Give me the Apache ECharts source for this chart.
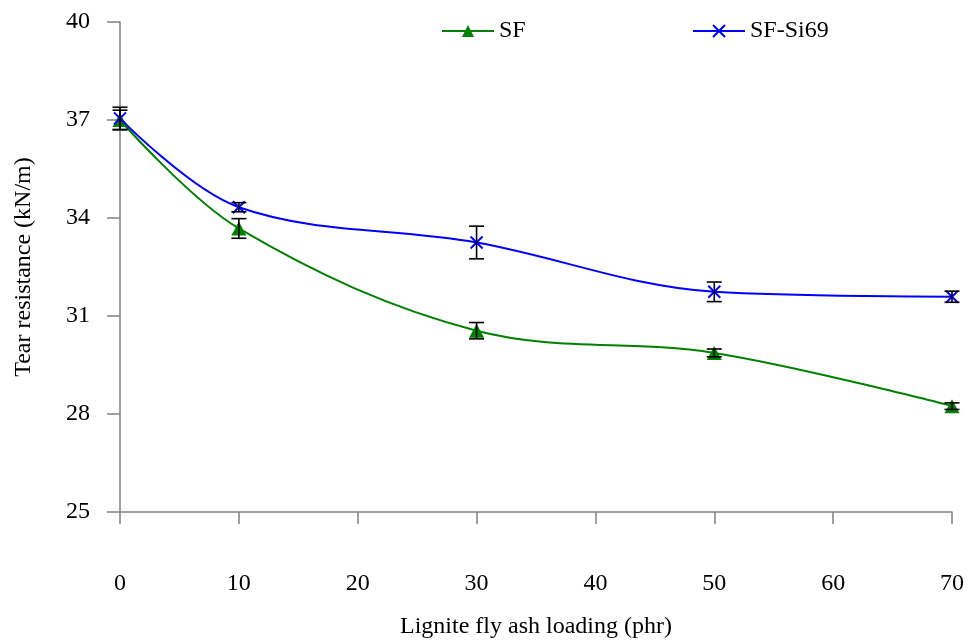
<!DOCTYPE html>
<html>
<head>
<meta charset="utf-8">
<script src="https://cdn.jsdelivr.net/npm/echarts@6/dist/echarts.min.js"></script>
<style>
  html, body { margin: 0; padding: 0; background: #fff; }
  #chart { width: 968px; height: 641px; }
</style>
</head>
<body>
<div id="chart"></div>
<script>
// Filler loading levels (phr)
const loading = [0, 10, 30, 50, 70];
// Tear resistance (kN/m) and standard deviations
const sfValues = [37.0, 33.68, 30.55, 29.87, 28.24];
const sfErr = [0.3, 0.3, 0.25, 0.12, 0.1];
const si69Values = [37.05, 34.33, 33.25, 31.74, 31.59];
const si69Err = [0.34, 0.14, 0.5, 0.3, 0.17];
// Axis ticks
const yTicks = [25, 28, 31, 34, 37, 40];
const xTicks = [0, 10, 20, 30, 40, 50, 60, 70];

const FONT = 'Liberation Serif';
const AXIS_COLOR = '#808080';

const pairs = (xs, ys) => xs.map((x, i) => [x, ys[i]]);
const triples = (xs, ys, es) => xs.map((x, i) => [x, ys[i], es[i]]);

// Draws an I-shaped error bar at each point
function renderErrorBar(params, api) {
  const x = api.value(0), y = api.value(1), e = api.value(2);
  const top = api.coord([x, y + e]);
  const bot = api.coord([x, y - e]);
  const hw = 7.5;
  const style = { stroke: '#000', lineWidth: 1.6 };
  return {
    type: 'group',
    children: [
      { type: 'line', shape: { x1: top[0], y1: top[1], x2: bot[0], y2: bot[1] }, style },
      { type: 'line', shape: { x1: top[0] - hw, y1: top[1], x2: top[0] + hw, y2: top[1] }, style },
      { type: 'line', shape: { x1: bot[0] - hw, y1: bot[1], x2: bot[0] + hw, y2: bot[1] }, style }
    ]
  };
}

const chart = echarts.init(document.getElementById('chart'), null, { renderer: 'canvas' });

const legendText = { fontFamily: FONT, fontSize: 24, color: '#000', padding: [8, 0, 0, 0] };

chart.setOption({
  backgroundColor: '#fff',
  animation: false,
  textStyle: { fontFamily: FONT, color: '#000' },
  legend: [
    { data: ['SF'], left: 436, top: 14, itemWidth: 52, itemHeight: 15, textStyle: legendText },
    { data: ['SF-Si69'], left: 687, top: 14, itemWidth: 52, itemHeight: 15, textStyle: legendText }
  ],
  grid: { left: 120, right: 16, top: 22, bottom: 129, containLabel: false, outerBoundsMode: 'none' },
  xAxis: {
    type: 'value', min: 0, max: 70, interval: 10,
    name: 'Lignite fly ash loading (phr)', nameLocation: 'middle', nameGap: 103,
    nameTextStyle: { fontFamily: FONT, fontSize: 24, color: '#000' },
    axisLine: { show: true, lineStyle: { color: AXIS_COLOR, width: 1.5 } },
    axisTick: { show: true, length: 12, lineStyle: { color: AXIS_COLOR, width: 1.5 } },
    axisLabel: { margin: 60, fontFamily: FONT, fontSize: 24, color: '#000', customValues: xTicks },
    splitLine: { show: false }
  },
  yAxis: {
    type: 'value', min: 25, max: 40,
    name: 'Tear resistance (kN/m)', nameLocation: 'middle', nameGap: 84, nameRotate: 90,
    nameTextStyle: { fontFamily: FONT, fontSize: 24, color: '#000' },
    axisLine: { show: true, lineStyle: { color: AXIS_COLOR, width: 1.5 } },
    axisTick: { show: true, length: 13, lineStyle: { color: AXIS_COLOR, width: 1.5 }, customValues: yTicks },
    axisLabel: { margin: 30, fontFamily: FONT, fontSize: 24, color: '#000', customValues: yTicks },
    splitLine: { show: false }
  },
  series: [
    {
      name: 'SF', type: 'line', smooth: 0.35,
      data: pairs(loading, sfValues),
      symbol: 'triangle', symbolSize: [15, 14],
      itemStyle: { color: '#008000' },
      lineStyle: { color: '#008000', width: 2 },
      z: 3
    },
    {
      name: 'SF-Si69', type: 'line', smooth: 0.35,
      data: pairs(loading, si69Values),
      symbol: 'path://M0,0L10,10M10,0L0,10', symbolSize: 12,
      itemStyle: { color: '#0000ff', borderColor: '#0000ff', borderWidth: 2 },
      lineStyle: { color: '#0000ff', width: 2 },
      z: 3
    },
    {
      type: 'custom', renderItem: renderErrorBar,
      data: triples(loading, sfValues, sfErr), z: 4, silent: true
    },
    {
      type: 'custom', renderItem: renderErrorBar,
      data: triples(loading, si69Values, si69Err), z: 4, silent: true
    }
  ]
});
</script>
</body>
</html>
